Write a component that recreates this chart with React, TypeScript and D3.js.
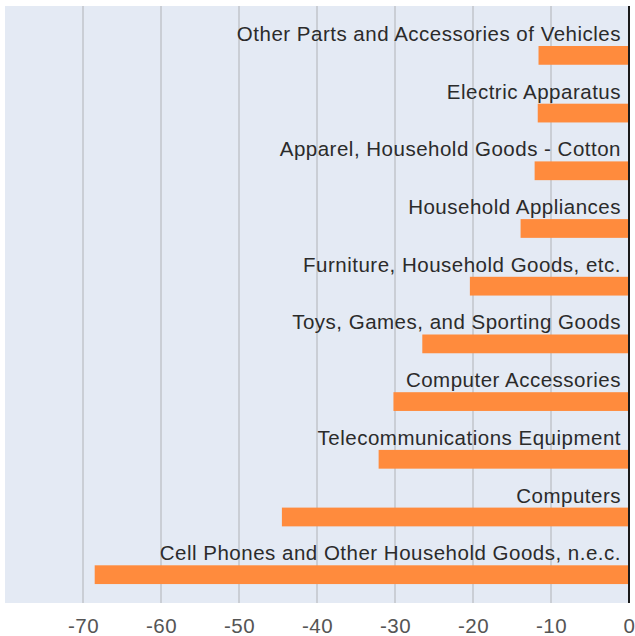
import * as d3 from "d3";

const categories = [
  "Other Parts and Accessories of Vehicles",
  "Electric Apparatus",
  "Apparel, Household Goods - Cotton",
  "Household Appliances",
  "Furniture, Household Goods, etc.",
  "Toys, Games, and Sporting Goods",
  "Computer Accessories",
  "Telecommunications Equipment",
  "Computers",
  "Cell Phones and Other Household Goods, n.e.c.",
];
const values = [-11.6, -11.7, -12.1, -13.9, -20.4, -26.5, -30.2, -32.1, -44.5, -68.5];
const ticks = [-70, -60, -50, -40, -30, -20, -10, 0];

const W = 635;
const H = 636;

export default function App() {
  // plot area
  const left = 5;
  const right = 629;
  const top = 6;
  const bottom = 603;

  const x = d3.scaleLinear().domain([-80, 0]).range([left, right]);
  const y = d3.scaleBand().domain(categories).range([16, 593]);
  const step = y.step();

  return (
    <svg
      width={W}
      height={H}
      style={{ position: "absolute", left: 0, top: 0, fontFamily: "'Liberation Sans', Arial, sans-serif" }}
    >
      <rect x={left} y={top} width={right - left} height={bottom - top} fill="#e4eaf4" />
      {ticks
        .filter((t) => t !== 0)
        .map((t) => (
          <line key={t} x1={x(t)} x2={x(t)} y1={top} y2={bottom} stroke="#b0b2b6" strokeWidth={1} />
        ))}
      {categories.map((c, i) => (
        <g key={c}>
          <rect
            x={x(values[i])}
            y={(y(c) ?? 0) + step * 0.52}
            width={x(0) - x(values[i])}
            height={step * 0.325}
            fill="#ff8b3d"
          />
          <text
            x={x(0) - 8}
            y={(y(c) ?? 0) + step * 0.433}
            textAnchor="end"
            fontSize={20.5}
            letterSpacing={0.5}
            fill="#2b2b2b"
          >
            {c}
          </text>
        </g>
      ))}
      <line x1={x(0)} x2={x(0)} y1={top} y2={bottom} stroke="#1a1a1a" strokeWidth={2} />
      {ticks.map((t) => (
        <text key={t} x={x(t) + 0.5} y={633} textAnchor="middle" fontSize={20.5} letterSpacing={0.5} fill="#555">
          {t}
        </text>
      ))}
    </svg>
  );
}
